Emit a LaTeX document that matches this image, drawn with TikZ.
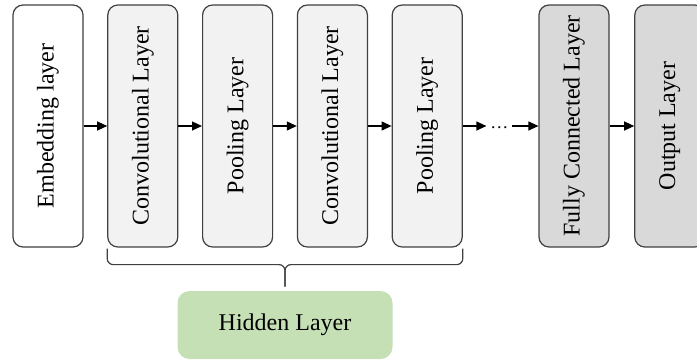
\documentclass[tikz,border=0pt]{standalone}
\usepackage{fontspec}
\setmainfont{Liberation Serif}
\usepackage{xcolor}
\usepackage{graphicx}
\usepackage{tikz}
\usetikzlibrary{positioning,calc,arrows.meta}

\definecolor{lightfill}{HTML}{F2F2F2}
\definecolor{darkfill}{HTML}{D9D9D9}
\definecolor{hiddengreen}{HTML}{C5E0B4}
\definecolor{edgegray}{HTML}{404040}

\newcommand{\vtext}[1]{\rotatebox{90}{#1}}

\begin{document}
\begin{tikzpicture}[%
  font=\fontsize{12}{14}\selectfont,
  node distance=11.8pt,
  layer/.style={draw=edgegray, line width=0.6pt, rounded corners=5pt,
    minimum width=35pt, minimum height=121pt, inner sep=0pt},
  conn/.style={-{Triangle[length=5pt,width=4.5pt]}, line width=0.6pt}]
  \useasboundingbox (0,0) rectangle (348.5pt,-180pt);

  % input and hidden stack
  \node[layer, fill=white] (embed) at (24pt,-63pt) {\vtext{Embedding layer}};
  \node[layer, fill=lightfill, right=of embed] (conv1) {\vtext{Convolutional Layer}};
  \node[layer, fill=lightfill, right=of conv1] (pool1) {\vtext{Pooling Layer}};
  \node[layer, fill=lightfill, right=of pool1] (conv2) {\vtext{Convolutional Layer}};
  \node[layer, fill=lightfill, right=of conv2] (pool2) {\vtext{Pooling Layer}};
  \node[inner sep=0pt, minimum width=12.5pt, right=of pool2, yshift=-1pt,
    font=\fontsize{9}{10}\selectfont] (dots) {\ldots};
  % output side
  \node[layer, fill=darkfill, right=37.8pt of pool2] (fc) {\vtext{Fully Connected Layer}};
  \node[layer, fill=darkfill, right=12.3pt of fc] (out) {\vtext{Output Layer}};

  \draw[conn] (embed) -- (conv1);
  \draw[conn] (conv1) -- (pool1);
  \draw[conn] (pool1) -- (conv2);
  \draw[conn] (conv2) -- (pool2);
  \draw[conn] (pool2.east) -- (pool2.east -| dots.west);
  \draw[conn] (fc.west -| dots.east) -- (fc.west);
  \draw[conn] (fc) -- (out);

  % bracket over the hidden stack
  \node[fill=hiddengreen, rounded corners=6pt, minimum width=107.5pt,
    minimum height=34pt, below=21.5pt of $(conv1.south)!0.5!(pool2.south)$]
    (hidden) {Hidden Layer};
  \coordinate (bl) at ([yshift=-0.5pt]conv1.south west);
  \coordinate (br) at ([yshift=-0.5pt]pool2.south east);
  \coordinate (tip) at ([yshift=2pt]hidden.north);
  \draw[edgegray, line width=0.6pt, rounded corners=3pt]
    (bl) -- ++(0,-8pt) -| (tip);
  \draw[edgegray, line width=0.6pt, rounded corners=3pt]
    (br) -- ++(0,-8pt) -| (tip);
\end{tikzpicture}
\end{document}
